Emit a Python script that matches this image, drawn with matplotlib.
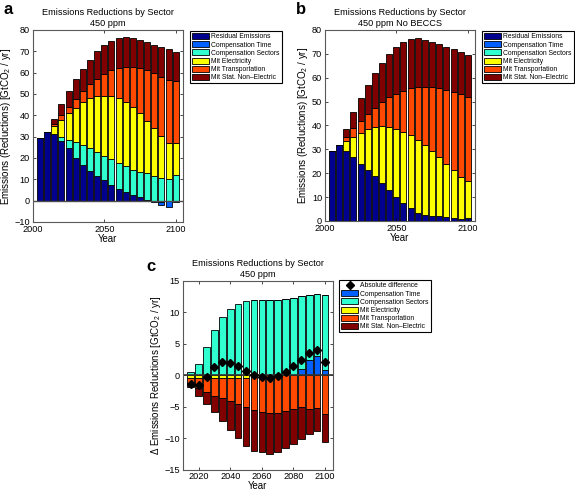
import numpy as np
import matplotlib
matplotlib.use('Agg')
import matplotlib.pyplot as plt

plt.rcParams['font.family'] = ['Liberation Sans', 'DejaVu Sans']
plt.rcParams['mathtext.fontset'] = 'custom'
plt.rcParams['mathtext.rm'] = 'Liberation Sans'

# ---- data -------------------------------------------------------------
years_ab = list(range(2005, 2101, 5))
years_c = list(range(2015, 2101, 5))

series_names = ['Residual Emissions', 'Compensation Time', 'Compensation Sectors',
                'Mit Electricity', 'Mit Transportation', 'Mit Stat. Non\u2013Electric']

# panel a: 450 ppm
residual_a = [29.5, 32, 31.3, 28, 24.5, 20, 16.5, 14, 11.5, 9.5, 7.5, 5.5, 4, 2.5, 1.5, 0.3, -0.7, -0.6, -0.4, -0.8]
comp_time_a = [0, 0, 0, 0, 0, 0, 0, 0, 0, 0, 0, 0, 0, 0, 0, 0, 0, -1.6, -2.6, 0]
comp_sectors_a = [0, 0, 0, 2, 4, 7.5, 9.5, 10.5, 11.5, 11.5, 12, 12, 12, 12, 12, 12.7, 11.5, 10.5, 10, 12]
elec_a = [0, 0, 3.5, 8, 12.5, 16, 20, 23.5, 26, 28, 29.5, 30.5, 30, 29.5, 27.5, 24.5, 22.5, 20, 17, 15]
transport_a = [0, 0, 1, 2, 3, 4, 5.5, 6.5, 8, 10.5, 12, 14, 16.5, 18.5, 21, 23.5, 26, 27.5, 29.5, 29]
stat_a = [0, 0, 2.5, 5.5, 7.5, 9.5, 10, 11.5, 13, 13.5, 14, 14, 14, 13.5, 13.3, 13.5, 13, 14, 14.5, 13.5]

# panel b: 450 ppm No BECCS
residual_b = [29.5, 32, 29.3, 26.8, 24, 21.5, 19, 15.7, 13, 10, 7.5, 5.5, 3.5, 2.5, 2.2, 2, 1.5, 1.2, 0.8, 1.3]
comp_time_b = [0] * 20
comp_sectors_b = [0] * 20
elec_b = [0, 0, 4.1, 8.5, 13, 17, 20.5, 24, 26.5, 28.7, 29.9, 30.5, 30.5, 29.5, 27.3, 24.8, 22.5, 20.1, 17.6, 15.4]
transport_b = [0, 0, 1.6, 3.5, 5, 6.5, 8, 10.3, 12.5, 14.5, 17.2, 19.6, 22.1, 24.3, 26.5, 28.9, 31, 32.7, 34.6, 35.1]
stat_b = [0, 0, 3.7, 6.8, 9.7, 12, 14.3, 16, 18, 19.6, 20.4, 20.6, 20.4, 19.7, 19, 18.6, 18, 18, 17.8, 17.7]

# panel c: difference
comp_time_c = [0, 0, 0, 0, 0, 0, 0, 0, 0, 0, 0, 0, 0, 0, 1.0, 2.4, 3.1, 0.8]
comp_sectors_c = [0.5, 1.8, 4.5, 7.2, 9.3, 10.6, 11.4, 11.8, 11.9, 11.9, 11.9, 12.0, 12.1, 12.3, 11.6, 10.4, 9.8, 11.9]
elec_c = [-0.4, -0.4, -0.4, -0.4, -0.4, -0.4, -0.4, -0.4, 0, 0, 0, 0, 0, 0, 0, 0, 0, 0]
transport_c = [-0.8, -1.6, -2.2, -2.8, -3.2, -3.7, -4.1, -4.6, -5.5, -5.8, -6.0, -5.9, -5.6, -5.4, -5.0, -5.3, -5.2, -6.2]
stat_c = [-0.6, -1.3, -2.0, -2.6, -3.6, -4.5, -5.5, -6.2, -6.5, -6.4, -6.4, -6.3, -6.0, -5.5, -5.1, -4.0, -3.6, -4.4]
abs_diff = [-1.3, -1.5, -0.2, 1.4, 2.1, 2.0, 1.5, 0.7, 0.0, -0.3, -0.4, -0.1, 0.6, 1.5, 2.5, 3.5, 4.0, 2.1]

colors = ['#00008f', '#0060ff', '#30ffd0', '#ffff00', '#ff4800', '#800000']

FS = 6.6


def stacked(ax, x, series, cols, width=4.2):
  pos = np.zeros(len(x))
  neg = np.zeros(len(x))
  handles = []
  for vals, c in zip(series, cols):
    vals = np.asarray(vals, dtype=float)
    bottom = np.where(vals >= 0, pos, neg)
    h = ax.bar(x, vals, width=width, bottom=bottom, color=c,
               edgecolor='k', linewidth=0.6)
    handles.append(h)
    pos = pos + np.clip(vals, 0, None)
    neg = neg + np.clip(vals, None, 0)
  return handles


def style(ax, title, ylabel, xpad=0, tpad=2):
  ax.set_title(title, fontsize=FS, pad=3, linespacing=1.2)
  ax.set_xlabel('Year', fontsize=6.9, labelpad=xpad)
  ax.set_ylabel(ylabel, fontsize=7, labelpad=1)
  ax.tick_params(direction='in', top=True, right=True, labelsize=FS,
                 length=2.5, width=0.5, pad=2)
  ax.tick_params(axis='x', pad=tpad)
  for s in ax.spines.values():
    s.set_linewidth(0.8)
    s.set_color('0.35')


def legend(fig, handles, labels, x, y):
  leg = fig.legend(handles, labels, loc='upper left', bbox_to_anchor=(x, y),
                   bbox_transform=fig.transFigure, fontsize=4.9, fancybox=False,
                   framealpha=1, edgecolor='k', borderpad=0.3, labelspacing=0.14,
                   handlelength=2.5, handleheight=0.95, handletextpad=0.35,
                   borderaxespad=0)
  leg.get_frame().set_linewidth(0.8)
  return leg


fig = plt.figure(figsize=(5.75, 4.91), dpi=100)
ylab = 'Emissions (Reductions) [GtCO$_2$ / yr]'

# panel a
ax_a = fig.add_axes([0.057, 0.548, 0.261, 0.391])
h = stacked(ax_a, years_ab, [residual_a, comp_time_a, comp_sectors_a, elec_a,
                             transport_a, stat_a], colors)
ax_a.axhline(0, color='0.3', linewidth=1)
ax_a.set_xlim(2000, 2105)
ax_a.set_ylim(-10, 80)
ax_a.set_xticks([2000, 2050, 2100])
ax_a.set_yticks(range(-10, 81, 10))
style(ax_a, 'Emissions Reductions by Sector\n450 ppm', ylab)
legend(fig, h, series_names, 190 / 575, 1 - 31 / 491)
fig.text(0.006, 0.995, 'a', fontsize=12, fontweight='bold', va='top')

# panel b
ax_b = fig.add_axes([0.565, 0.55, 0.261, 0.389])
h = stacked(ax_b, years_ab, [residual_b, comp_time_b, comp_sectors_b, elec_b,
                             transport_b, stat_b], colors)
ax_b.set_xlim(2000, 2105)
ax_b.set_ylim(0, 80)
ax_b.set_xticks([2000, 2050, 2100])
ax_b.set_yticks(range(0, 81, 10))
style(ax_b, 'Emissions Reductions by Sector\n450 ppm No BECCS', ylab)
legend(fig, h, series_names, 482 / 575, 1 - 31 / 491)
fig.text(0.514, 0.995, 'b', fontsize=12, fontweight='bold', va='top')

# panel c
ax_c = fig.add_axes([0.318, 0.043, 0.261, 0.385])
h = stacked(ax_c, years_c, [comp_time_c, comp_sectors_c, elec_c,
                            transport_c, stat_c], colors[1:])
ax_c.axhline(0, color='0.2', linewidth=1.2)
m, = ax_c.plot(years_c, abs_diff, linestyle='none', marker='D', markersize=4,
               color='k')
ax_c.set_xlim(2010, 2105)
ax_c.set_ylim(-15, 15)
ax_c.set_xticks(range(2020, 2101, 20))
ax_c.set_yticks(range(-15, 16, 5))
style(ax_c, 'Emissions Reductions by Sector\n450 ppm',
      '\u0394 Emissions Reductions [GtCO$_2$ / yr]', xpad=0, tpad=1.5)
legend(fig, [m] + h, ['Absolute difference'] + series_names[1:], 339 / 575, 1 - 280 / 491)
fig.text(0.255, 0.472, 'c', fontsize=12, fontweight='bold', va='top')

fig.savefig('out.png', dpi=100)
